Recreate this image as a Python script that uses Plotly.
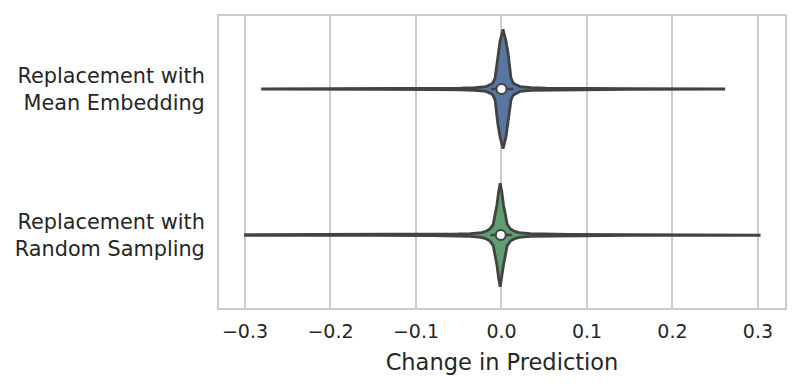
import plotly.graph_objects as go

# categories (top to bottom)
labels = ["Replacement with<br>Mean Embedding", "Replacement with<br>Random Sampling"]
fill_colors = ["#5975a4", "#5f9e6e"]

# violin outline: change value vs. half width (category units)
x_mean = [-0.281, -0.15, -0.078, -0.048, -0.031, -0.018, -0.0122, -0.0102, -0.0075, -0.0043, -0.0017,
          0.0018, 0.0053, 0.0079, 0.0111, 0.0138, 0.0158, 0.0218, 0.0348, 0.0518, 0.0818, 0.15, 0.260]
w_mean = [0.0014, 0.0024, 0.0034, 0.006, 0.009, 0.017, 0.032, 0.041, 0.075, 0.238, 0.327,
          0.408, 0.327, 0.238, 0.075, 0.041, 0.032, 0.017, 0.009, 0.006, 0.0034, 0.0024, 0.0014]

x_rand = [-0.301, -0.1515, -0.0815, -0.0515, -0.0365, -0.0235, -0.0175, -0.0135, -0.0097, -0.0054, -0.0033,
          -0.0015, 0.0003, 0.0024, 0.0067, 0.0105, 0.0145, 0.0205, 0.0335, 0.0485, 0.0785, 0.1485, 0.303]
w_rand = [0.0017, 0.0027, 0.0041, 0.0068, 0.0095, 0.017, 0.027, 0.041, 0.073, 0.204, 0.299,
          0.354, 0.299, 0.204, 0.073, 0.041, 0.027, 0.017, 0.0095, 0.0068, 0.0041, 0.0027, 0.0017]

medians = [0.0, -0.0008]
q1 = [-0.003, -0.004]
q3 = [0.004, 0.003]
whisk_lo = [-0.012, -0.013]
whisk_hi = [0.014, 0.012]

xs = [x_mean, x_rand]
ws = [w_mean, w_rand]
edge = "#424242"

fig = go.Figure()

for i in range(len(labels)):
    x = xs[i] + xs[i][::-1]
    y = [i - w for w in ws[i]] + [i + w for w in ws[i][::-1]]
    fig.add_trace(go.Scatter(x=x, y=y, mode="lines", fill="toself", fillcolor=fill_colors[i],
                             line=dict(color=edge, width=2.8), hoverinfo="skip", showlegend=False))
    # inner box
    fig.add_trace(go.Scatter(x=[whisk_lo[i], whisk_hi[i]], y=[i, i], mode="lines",
                             line=dict(color=edge, width=2.5), showlegend=False))
    fig.add_trace(go.Scatter(x=[q1[i], q3[i]], y=[i, i], mode="lines",
                             line=dict(color=edge, width=7), showlegend=False))
    fig.add_trace(go.Scatter(x=[medians[i]], y=[i], mode="markers",
                             marker=dict(size=10, color="white", line=dict(color=edge, width=2)),
                             showlegend=False))

# page body adds ~8px offset, margins compensate
fig.update_layout(
    width=800, height=389,
    margin=dict(l=211, r=23, t=6, b=89),
    plot_bgcolor="white", paper_bgcolor="white",
    font=dict(family="DejaVu Sans", color="#262626"),
    showlegend=False,
)
fig.update_xaxes(range=[-0.3304, 0.3316], tickvals=[-0.3, -0.2, -0.1, 0.0, 0.1, 0.2, 0.3],
                 ticktext=["\u22120.3", "\u22120.2", "\u22120.1", "0.0", "0.1", "0.2", "0.3"],
                 showgrid=True, gridcolor="#cccccc", gridwidth=1.5, zeroline=False,
                 showline=True, linecolor="#cccccc", linewidth=2, mirror=True,
                 ticks="outside", ticklen=5, tickcolor="white", tickfont=dict(size=19),
                 title=dict(text="Change in Prediction", font=dict(size=22.5), standoff=13))
fig.update_yaxes(range=[1.5, -0.5], tickvals=[0, 1], ticktext=labels, showgrid=False,
                 zeroline=False, showline=True, linecolor="#cccccc", linewidth=2, mirror=True,
                 ticks="outside", ticklen=8, tickcolor="white", tickfont=dict(size=20.8))

fig.write_html("out.html")
